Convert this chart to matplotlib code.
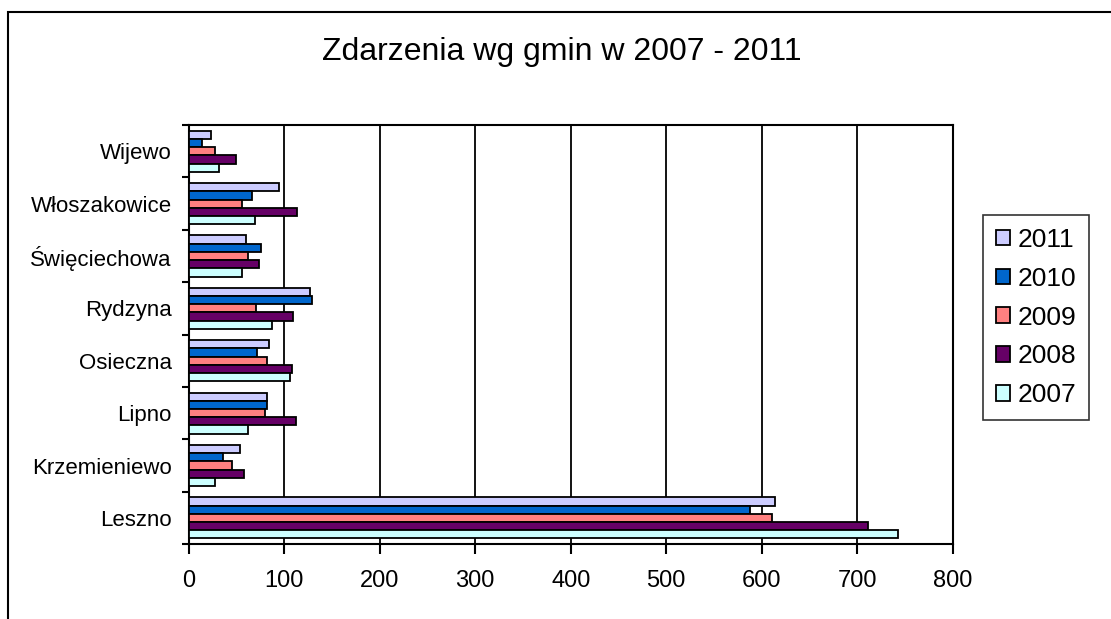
import matplotlib.pyplot as plt
import numpy as np
from matplotlib.patches import Rectangle

plt.rcParams['font.family'] = ['Liberation Sans', 'DejaVu Sans']

gminy = ['Leszno', 'Krzemieniewo', 'Lipno', 'Osieczna', 'Rydzyna',
         'Święciechowa', 'Włoszakowice', 'Wijewo']
lata = ['2011', '2010', '2009', '2008', '2007']
v2011 = [614, 54, 82, 84, 127, 60, 95, 24]
v2010 = [588, 36, 82, 72, 129, 76, 66, 14]
v2009 = [611, 46, 80, 82, 71, 62, 56, 28]
v2008 = [711, 58, 112, 108, 109, 74, 113, 50]
v2007 = [743, 28, 62, 106, 87, 56, 70, 32]
kolory = ['#CCCCFF', '#0066CC', '#FF8080', '#660066', '#CCFFFF']

dane = [v2011, v2010, v2009, v2008, v2007]

fig = plt.figure(figsize=(11.11, 6.19), dpi=100)
ax = fig.add_axes([0.1697, 0.121, 0.688, 0.677])

y = np.arange(len(gminy))
h = 0.157
for i, (rok, vals, c) in enumerate(zip(lata, dane, kolory)):
    off = (2 - i) * h
    ax.barh(y + off, vals, height=h, color=c, edgecolor='black',
            linewidth=1.3, label=rok, zorder=3)

ax.set_xlim(0, 800)
ax.set_ylim(-0.5, len(gminy) - 0.5)
ax.set_xticks(np.arange(0, 801, 100))
ax.set_yticks(y)
ax.set_yticklabels(gminy)
ax.set_yticks(np.arange(-0.5, len(gminy)), minor=True)
ax.tick_params(axis='y', which='major', length=0, pad=12, labelsize=16)
ax.tick_params(axis='y', which='minor', length=5, width=1.5)
ax.tick_params(axis='x', length=7, width=1.5, pad=12, labelsize=17)
ax.grid(axis='x', color='black', linewidth=1.3, zorder=0)
for s in ax.spines.values():
    s.set_linewidth(1.5)

fig.text(0.506, 0.916, 'Zdarzenia wg gmin w 2007 - 2011', ha='center',
         va='center', fontsize=23)

leg = ax.legend(loc='center left', bbox_to_anchor=(1.039, 0.5405), fontsize=19,
                frameon=True, fancybox=False, edgecolor='black',
                handlelength=0.53, handleheight=0.53, handletextpad=0.28,
                labelspacing=0.56, borderpad=0.5, borderaxespad=0)
leg.get_frame().set_linewidth(1.2)

fig.patches.append(Rectangle((8 / 1111, -0.1), 1.2, 1.1 - 12 / 619,
                             transform=fig.transFigure, fill=False,
                             edgecolor='black', linewidth=1.5))

plt.savefig('out.png', dpi=100)
